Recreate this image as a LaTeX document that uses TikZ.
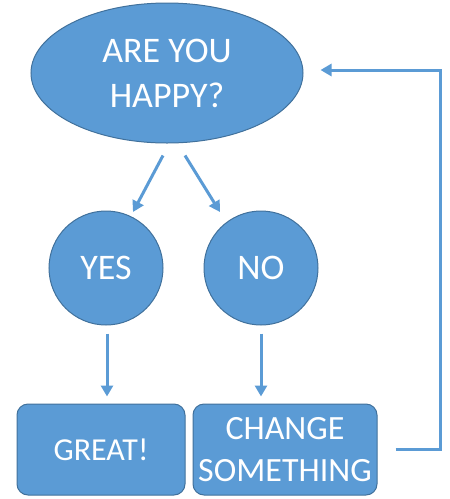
\documentclass[tikz,border=0pt]{standalone}
\usepackage{fontspec}
\setmainfont{Carlito}
\usetikzlibrary{shapes.geometric,arrows.meta,calc}
\definecolor{offblue}{HTML}{5B9BD5}
\definecolor{offedge}{HTML}{41719C}
\begin{document}
\begin{tikzpicture}[x=1pt,y=-1pt,
  shapebox/.style={fill=offblue,draw=offedge,line width=1pt,text=white,inner sep=0pt,align=center},
  arr/.style={draw=offblue,line width=3pt,-{Triangle[length=11pt,width=12pt]}}]
\useasboundingbox (0,0) rectangle (450,499);
\node[shapebox,ellipse,minimum width=272pt,minimum height=140pt,font=\fontsize{36}{45}\selectfont] (q) at (167,73) {ARE YOU\\HAPPY?};
\node[shapebox,circle,minimum size=114pt,font=\fontsize{36}{42}\selectfont] (yes) at (106,268) {YES};
\node[shapebox,circle,minimum size=114pt,font=\fontsize{36}{42}\selectfont] (no) at (261,268) {NO};
\node[shapebox,rounded corners=11pt,minimum width=168pt,minimum height=91pt,font=\fontsize{32}{36}\selectfont] (great) at (101,449.5) {GREAT!};
\node[shapebox,rounded corners=11pt,minimum width=184pt,minimum height=91pt,font=\fontsize{34}{45}\selectfont] (change) at (285,449.5) {\raisebox{-3pt}{CHANGE}\\SOMETHING};
\draw[arr] ($(q.south)+(-4,12)$) -- ($(yes.center)+(27,-56)$);
\draw[arr] ($(q.south)+(18,12)$) -- ($(no.center)+(-41,-56)$);
\draw[arr] ($(yes.south)+(1,8)$) -- ($(great.north)+(6,-7)$);
\draw[arr] ($(no.south)+(0,8)$) -- ($(change.north)+(-24,-7)$);
\coordinate (corner) at (440,70);
\draw[arr] ($(change.east)+(18,0)$) -| (corner) -- ($(q.east)+(17,-3)$);
\end{tikzpicture}
\end{document}
